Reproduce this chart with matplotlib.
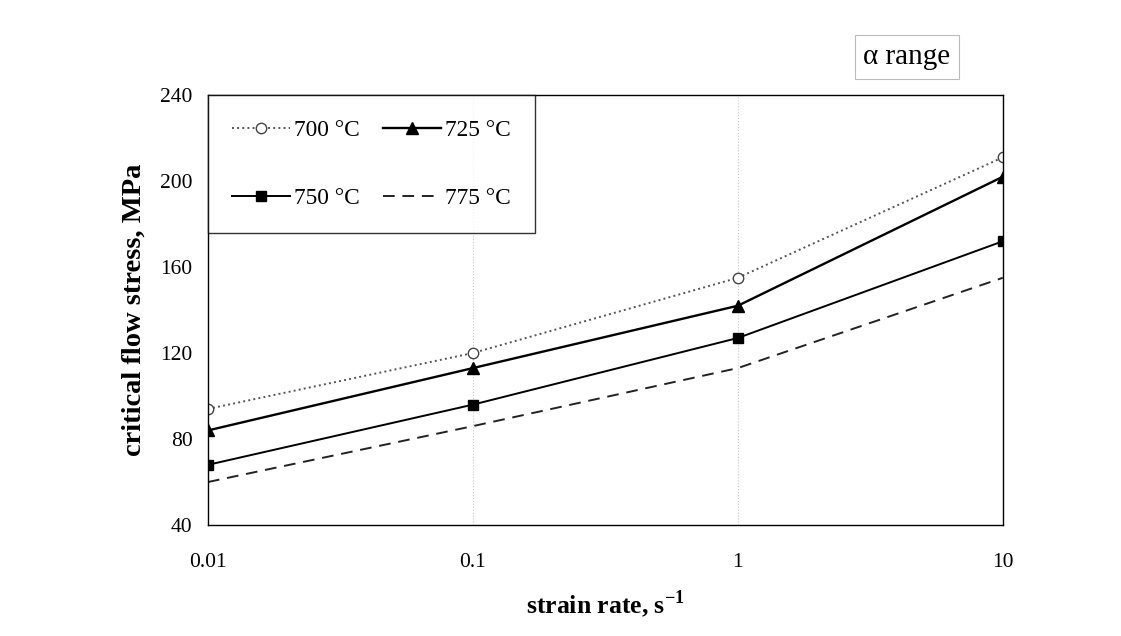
import matplotlib
matplotlib.use("Agg")
import matplotlib.pyplot as plt

# data
strain_rate = [0.01, 0.1, 1, 10]
stress_700 = [94, 120, 155, 211]
stress_725 = [84, 113, 142, 202]
stress_750 = [68, 96, 127, 172]
stress_775 = [60, 86, 113, 155]

plt.rcParams["font.family"] = ["Liberation Serif", "DejaVu Serif"]

fig = plt.figure(figsize=(11.21, 6.36), dpi=100)
ax = fig.add_axes([0.1855, 0.1745, 0.709, 0.676])

# faint vertical grid lines as in the scan
for xv in [0.1, 1]:
    ax.axvline(xv, color="#c8c8c8", lw=0.8, ls=":", zorder=0)

l700, = ax.plot(strain_rate, stress_700, color="#555555", ls=":", lw=1.4,
                marker="o", mfc="white", mec="#444444", ms=7.5, label="700 °C")
l725, = ax.plot(strain_rate, stress_725, color="black", ls="-", lw=1.7,
                marker="^", ms=8, label="725 °C")
l750, = ax.plot(strain_rate, stress_750, color="black", ls="-", lw=1.4,
                marker="s", ms=7, label="750 °C")
l775, = ax.plot(strain_rate, stress_775, color="#222222", ls=(0, (6, 4)), lw=1.4,
                label="775 °C")

ax.set_xscale("log")
ax.set_xlim(0.01, 10)
ax.set_ylim(40, 240)
ax.set_yticks([40, 80, 120, 160, 200, 240])
ax.set_xticks(strain_rate)
ax.set_xticklabels(["0.01", "0.1", "1", "10"])
ax.minorticks_off()
ax.tick_params(axis="both", labelsize=15.5, length=0)
ax.tick_params(axis="x", pad=20)
ax.tick_params(axis="y", pad=11)
for s in ax.spines.values():
    s.set_linewidth(1.0)

ax.set_xlabel("strain rate, s$^{\\mathregular{-1}}$", fontsize=18.5, fontweight="bold", labelpad=12)
ax.set_ylabel("critical flow stress, MPa", fontsize=20.5, fontweight="bold", labelpad=10)

leg = ax.legend(handles=[l700, l750, l725, l775], ncol=2, loc="upper left",
                bbox_to_anchor=(0, 1), borderaxespad=0, fontsize=16.8,
                frameon=True, fancybox=False, edgecolor="black",
                handlelength=2.45, handletextpad=0.2, columnspacing=1.0,
                labelspacing=2.0, borderpad=1.05)
leg.get_frame().set_linewidth(1.0)

fig.text(0.809, 0.91, "α range", fontsize=21, ha="center", va="center",
         bbox=dict(boxstyle="square,pad=0.3", fc="white", ec="#bbbbbb", lw=0.8))

fig.savefig("out.png", dpi=100, facecolor="white")
